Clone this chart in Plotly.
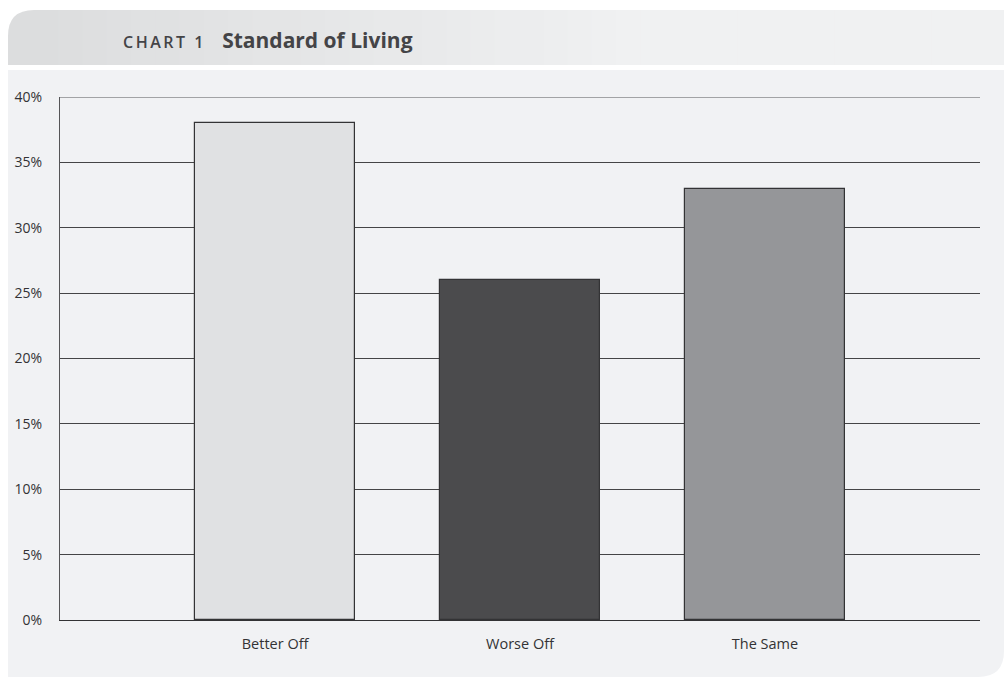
import plotly.graph_objects as go

categories = ["Better Off", "Worse Off", "The Same"]
values = [38, 26, 33]
bar_colors = ["#e0e1e3", "#4b4b4d", "#959699"]
y_ticks = [0, 5, 10, 15, 20, 25, 30, 35, 40]
y_tick_labels = ["0%", "5%", "10%", "15%", "20%", "25%", "30%", "35%", "40%"]
title_prefix = "CHART 1"
title_main = "Standard of Living"

W, H = 1004, 677
L, R, T, B = 60, 980, 97, 620  # plot area in pixels


def px(x):
    return (x - L) / (R - L)


def py(y):
    return (B - y) / (B - T)


fig = go.Figure()
fig.add_trace(go.Bar(
    x=[0, 1, 2], y=values, width=0.653,
    marker=dict(color=bar_colors, line=dict(color="#333335", width=1.2)),
    hoverinfo="skip",
))

shapes = []
# header band with rounded top-left corner
r = 26
hx0, hx1, hy0, hy1 = 8, 1004, 10, 65
path = (f"M {px(hx0)},{py(hy1)} L {px(hx0)},{py(hy0 + r)} "
        f"Q {px(hx0)},{py(hy0)} {px(hx0 + r)},{py(hy0)} "
        f"L {px(hx1)},{py(hy0)} L {px(hx1)},{py(hy1)} Z")
shapes.append(dict(type="path", path=path, xref="paper", yref="paper",
                   fillcolor="#dcddde", line=dict(width=0), layer="below"))
n = 40
c0 = (0xdc, 0xdd, 0xde)
c1 = (0xf0, 0xf1, 0xf2)
sx0 = hx0 + r
for i in range(n):
    t = (i + 0.5) / n
    t2 = min(1.0, t * 1.6)
    col = tuple(int(round(c0[k] + (c1[k] - c0[k]) * t2)) for k in range(3))
    xa = sx0 + (hx1 - sx0) * i / n
    xb = sx0 + (hx1 - sx0) * (i + 1) / n + 0.6
    shapes.append(dict(type="rect", xref="paper", yref="paper",
                       x0=px(xa), x1=px(xb), y0=py(hy1), y1=py(hy0),
                       fillcolor="rgb(%d,%d,%d)" % col, line=dict(width=0),
                       layer="below"))

# body panel with rounded bottom-right corner
bx0, bx1, by0, by1 = 8, 1004, 70, 677
rb = 26
path2 = (f"M {px(bx0)},{py(by0)} L {px(bx1)},{py(by0)} "
         f"L {px(bx1)},{py(by1 - rb)} Q {px(bx1)},{py(by1)} {px(bx1 - rb)},{py(by1)} "
         f"L {px(bx0)},{py(by1)} Z")
shapes.append(dict(type="path", path=path2, xref="paper", yref="paper",
                   fillcolor="#f1f2f4", line=dict(width=0), layer="below"))
# top gridline at 40%
shapes.append(dict(type="line", xref="paper", yref="y", x0=0, x1=1,
                   y0=y_ticks[-1], y1=y_ticks[-1],
                   line=dict(color="#555557", width=1.2), layer="below"))

fig.update_layout(
    width=W, height=H,
    margin=dict(l=L, r=W - R, t=T, b=H - B, pad=0),
    paper_bgcolor="white",
    plot_bgcolor="rgba(0,0,0,0)",
    showlegend=False,
    bargap=0,
    shapes=shapes,
    font=dict(family="Open Sans", color="#333335", size=14),
    xaxis=dict(
        range=[-0.878, 2.878], tickvals=[0, 1, 2], ticktext=categories,
        showgrid=False, zeroline=False, showline=True, linecolor="#333335",
        linewidth=1.2, ticks="", ticklabelstandoff=10,
        tickfont=dict(size=14.5, color="#333335"), fixedrange=True,
    ),
    yaxis=dict(
        range=[0, 40], tickvals=y_ticks, ticktext=y_tick_labels,
        showgrid=True, gridcolor="#444446", gridwidth=1.2,
        zeroline=False, showline=True, linecolor="#555557", linewidth=1.2,
        ticks="", ticklabelstandoff=14,
        tickfont=dict(size=14, color="#333335"), fixedrange=True,
    ),
    annotations=[dict(
        xref="paper", yref="paper", x=px(121), y=py(40),
        xanchor="left", yanchor="middle", showarrow=False,
        text=(f"<span style='font-size:16px;letter-spacing:2.5px;font-weight:600'>{title_prefix}</span>"
              f"&nbsp;&nbsp;&nbsp;<b><span style='font-size:21px'>{title_main}</span></b>"),
        font=dict(family="Open Sans", color="#444447", size=21),
    )],
)

fig.write_html(
    "out.html",
    config={"displayModeBar": False},
    post_script="document.body.style.margin='0';document.body.style.overflow='hidden';",
)
